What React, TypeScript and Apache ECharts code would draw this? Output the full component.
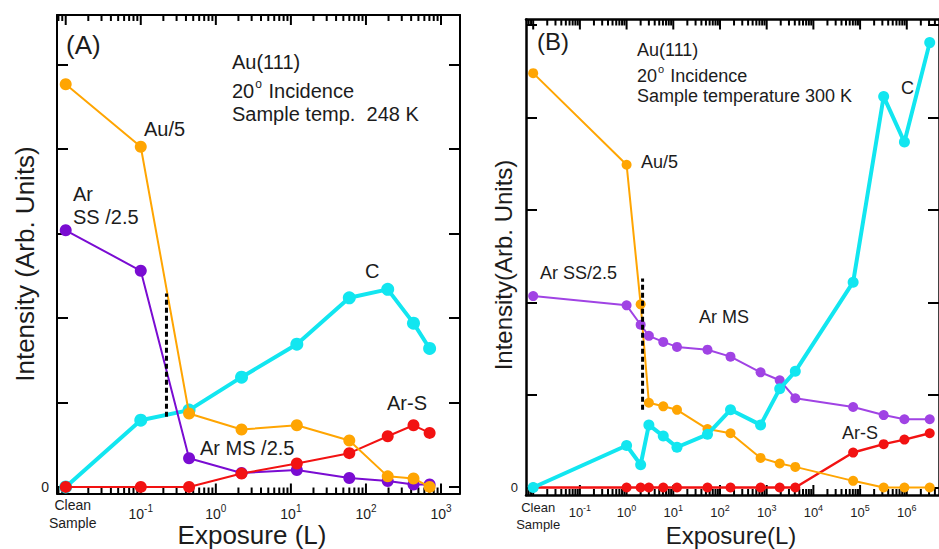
import React, { useEffect, useRef } from 'react';
import * as echarts from 'echarts';

// ---------- Panel A data (exposure in L; "Clean Sample" plotted at 1e-2) ----------
const exposureA = [0.01, 0.1, 0.44, 2.2, 12, 60, 195, 430, 705];
const auA = [4.77, 4.03, 0.87, 0.68, 0.73, 0.55, 0.125, 0.1, 0.0];
const arSSA = [3.04, 2.56, 0.34, 0.165, 0.2, 0.105, 0.07, 0.028, 0.03];
const carbonA = [0, 0.79, 0.91, 1.3, 1.69, 2.24, 2.34, 1.94, 1.64];
const arSA = [0, 0, 0, 0.158, 0.277, 0.4, 0.6, 0.73, 0.64];
const dashExposureA = [0.22, 0.22];
const dashValuesA = [0.83, 2.29];

// ---------- Panel B data ----------
const exposureB = [0.01, 1, 2, 3, 6.1, 12, 54, 168, 740, 1900, 4100, 71000, 320000, 890000, 3100000];
const auB = [4.48, 3.49, 1.98, 0.916, 0.878, 0.84, 0.632, 0.587, 0.32, 0.26, 0.223, 0.072, 0, 0, 0];
const arSSB = [2.07, 1.97, 1.76, 1.64, 1.574, 1.52, 1.49, 1.415, 1.245, 1.16, 0.965, 0.87, 0.783, 0.738, 0.738];
const carbonB = [0, 0.454, 0.246, 0.677, 0.556, 0.435, 0.575, 0.84, 0.677, 1.067, 1.256, 2.22, 4.227, 3.735, 4.81];
const arSB = [0, 0, 0, 0, 0, 0, 0, 0, 0, 0, 0, 0.378, 0.469, 0.518, 0.587];
const dashExposureB = [2.2, 2.2];
const dashValuesB = [0.84, 2.26];

// ---------- axes ----------
const decadesA = [-2, -1, 0, 1, 2, 3];
const decadesB = [-2, -1, 0, 1, 2, 3, 4, 5, 6];
const yTicks = [0, 1, 2, 3, 4, 5];
const yLabels = [0];
const cleanLabel = 'Clean\nSample';

const FONT = '"Liberation Sans", Arial, sans-serif';
const TEXT = '#1c1c1c';
const ORANGE = '#FFA502';
const CYAN = '#12E6F0';
const RED = '#F21212';

function minorTicks(min: number, max: number) {
  const out: number[] = [];
  for (let d = Math.floor(min); d <= Math.ceil(max); d++) {
    for (let k = 2; k <= 9; k++) {
      const v = d + Math.log10(k);
      if (v > min && v < max) out.push(v);
    }
  }
  return out;
}

type PanelCfg = {
  grid: number;
  xMin: number; xMax: number; yMin: number; yMax: number;
  decades: number[];
  labelSize: number;
  labelMargin: number;
  cleanMargin: number;
  cleanPad: number;
  yLabelSize: number;
  border: number;
};

function buildAxes(c: PanelCfg) {
  const majors = c.decades.filter((d) => d >= c.xMin && d <= c.xMax);
  const line = { show: true, onZero: false, lineStyle: { color: '#000', width: c.border } };
  const noLine = { show: false, onZero: false };
  const base = {
    type: 'value', gridIndex: c.grid, min: c.xMin, max: c.xMax,
    splitLine: { show: false }, axisTick: { show: false },
  };
  const tickStyle = { color: '#000', width: 2 };
  const xAxes = [
    {
      ...base, position: 'bottom', axisLine: line,
      axisLabel: {
        show: true, customValues: majors.filter((d) => d !== -2), margin: c.labelMargin,
        formatter: (v: number) => '{b|10}{s|' + String(v) + '}',
        rich: {
          b: { fontSize: c.labelSize, fontFamily: FONT, color: TEXT },
          s: { fontSize: c.labelSize - 4, fontFamily: FONT, color: TEXT, padding: [0, 0, 10, 0] },
        },
      },
    },
    {
      ...base, position: 'bottom', axisLine: noLine,
      axisLabel: {
        show: true, customValues: [-2], margin: c.cleanMargin,
        formatter: () => cleanLabel.split('\n').map((t) => '{c|' + t + '}').join('\n'),
        rich: { c: { fontSize: c.labelSize, fontFamily: FONT, color: TEXT, lineHeight: c.labelSize + 4, padding: [0, 0, 0, c.cleanPad] } },
      },
    },
    { ...base, position: 'top', axisLine: line, axisLabel: { show: false } },
  ];
  const yBase = {
    type: 'value', gridIndex: c.grid, min: c.yMin, max: c.yMax,
    splitLine: { show: false }, axisLine: line,
  };
  const yAxes = [
    {
      ...yBase, position: 'left',
      axisTick: { show: true, inside: true, length: 11, customValues: yTicks, lineStyle: tickStyle },
      axisLabel: { show: true, customValues: yLabels, margin: 8, fontSize: c.yLabelSize, fontFamily: FONT, color: TEXT },
    },
    {
      ...yBase, position: 'right',
      axisTick: { show: true, inside: true, length: 11, customValues: yTicks, lineStyle: tickStyle },
      axisLabel: { show: false },
    },
  ];
  return { xAxes, yAxes };
}

// log-axis tick marks (major + minor) on the top and bottom frame, placed through the axis scale
function tickSeries(xIdx: number, yIdx: number, c: PanelCfg) {
  const majors = c.decades.filter((d) => d >= c.xMin && d <= c.xMax);
  const minors = minorTicks(c.xMin, c.xMax);
  const data = [...majors.map((v) => [v, 10]), ...minors.map((v) => [v, 6])];
  return {
    type: 'custom', xAxisIndex: xIdx, yAxisIndex: yIdx, z: 1, silent: true, clip: false,
    data,
    renderItem: (_p: any, api: any) => {
      const x = api.value(0);
      const len = api.value(1);
      const b = api.coord([x, c.yMin]);
      const t = api.coord([x, c.yMax]);
      const st = { stroke: '#000', lineWidth: 2 };
      return {
        type: 'group',
        children: [
          { type: 'line', shape: { x1: b[0], y1: b[1], x2: b[0], y2: b[1] - len }, style: st },
          { type: 'line', shape: { x1: t[0], y1: t[1], x2: t[0], y2: t[1] + len }, style: st },
        ],
      };
    },
  };
}

function lineSeries(xIdx: number, yIdx: number, exps: number[], vals: number[], color: string, width: number, size: number, z: number) {
  return {
    type: 'line', xAxisIndex: xIdx, yAxisIndex: yIdx, z, silent: true,
    data: exps.map((e, i) => [Math.log10(e), vals[i]]),
    symbol: 'circle', symbolSize: size, showSymbol: true,
    lineStyle: { color, width }, itemStyle: { color, borderWidth: 0 },
  };
}

function dashSeries(xIdx: number, yIdx: number, exps: number[], vals: number[]) {
  return {
    type: 'line', xAxisIndex: xIdx, yAxisIndex: yIdx, z: 10, silent: true,
    data: exps.map((e, i) => [Math.log10(e), vals[i]]),
    symbol: 'none', lineStyle: { color: '#000', width: 3, type: [5, 3] },
  };
}

function txt(x: number, y: number, text: string, size: number, extra: any = {}) {
  return {
    type: 'text', x, y, silent: true, ...extra,
    style: {
      text, fontSize: size, fontFamily: FONT, fill: TEXT, align: 'left', verticalAlign: 'middle',
      rich: { o: { fontSize: Math.round(size * 0.62), fontFamily: FONT, fill: TEXT, padding: [0, 1, Math.round(size * 0.75), 1] } },
      ...(extra.style || {}),
    },
  };
}

export default function App() {
  const ref = useRef<HTMLDivElement>(null);
  useEffect(() => {
    if (!ref.current) return;
    const chart = echarts.init(ref.current, null, { renderer: 'svg' });

    const cfgA: PanelCfg = {
      grid: 0, xMin: -2.116, xMax: 3.253, yMin: -0.078, yMax: 5.59, decades: decadesA,
      labelSize: 14, labelMargin: 10, cleanMargin: 2, cleanPad: 14, yLabelSize: 14, border: 2,
    };
    const cfgB: PanelCfg = {
      grid: 1, xMin: -2.154, xMax: 6.69, yMin: -0.081, yMax: 5.06, decades: decadesB,
      labelSize: 13, labelMargin: 8, cleanMargin: 4, cleanPad: 10, yLabelSize: 13, border: 2.5,
    };
    const A = buildAxes(cfgA);
    const B = buildAxes(cfgB);

    const option: any = {
      animation: false,
      backgroundColor: '#ffffff',
      grid: [
        { left: 57, top: 15, width: 403, height: 478.5 },
        { left: 526, top: 19.5, width: 420, height: 475.5 },
      ],
      xAxis: [...A.xAxes, ...B.xAxes],
      yAxis: [...A.yAxes, ...B.yAxes],
      series: [
        tickSeries(0, 0, cfgA),
        lineSeries(0, 0, exposureA, carbonA, CYAN, 4, 13, 2),
        lineSeries(0, 0, exposureA, arSSA, '#7A0CD2', 2, 12, 3),
        lineSeries(0, 0, exposureA, arSA, RED, 2, 12, 4),
        lineSeries(0, 0, exposureA, auA, ORANGE, 2, 12, 5),
        dashSeries(0, 0, dashExposureA, dashValuesA),
        tickSeries(3, 2, cfgB),
        lineSeries(3, 2, exposureB, arSB, RED, 2.5, 10, 2),
        lineSeries(3, 2, exposureB, auB, ORANGE, 2, 10, 3),
        lineSeries(3, 2, exposureB, arSSB, '#A043E4', 2, 10, 4),
        lineSeries(3, 2, exposureB, carbonB, CYAN, 4, 11, 5),
        dashSeries(3, 2, dashExposureB, dashValuesB),
      ],
      graphic: [
        // Panel A
        txt(66, 45, '(A)', 26),
        txt(232, 62, 'Au(111)', 20),
        txt(232, 91, '20{o|o} Incidence', 20),
        txt(232, 114, 'Sample temp.  248 K', 20),
        txt(144, 129, 'Au/5', 20),
        txt(73, 194, 'Ar', 20),
        txt(73, 217, 'SS /2.5', 20),
        txt(365, 271, 'C', 20),
        txt(387, 403, 'Ar-S', 20),
        txt(200, 448, 'Ar MS /2.5', 20),
        txt(25, 264, 'Intensity (Arb. Units)', 26, { rotation: Math.PI / 2, style: { align: 'center' } }),
        txt(252, 535, 'Exposure (L)', 26, { style: { align: 'center' } }),
        // Panel B
        txt(537, 41, '(B)', 24),
        txt(637, 50, 'Au(111)', 18),
        txt(637, 76, '20{o|o} Incidence', 18),
        txt(637, 96, 'Sample temperature 300 K', 18),
        txt(641, 162, 'Au/5', 18),
        txt(540, 273, 'Ar SS/2.5', 18),
        txt(699, 317, 'Ar MS', 18),
        txt(901, 88, 'C', 18),
        txt(842, 433, 'Ar-S', 18),
        txt(503, 265, 'Intensity(Arb. Units)', 24, { rotation: Math.PI / 2, style: { align: 'center' } }),
        txt(731, 535, 'Exposure(L)', 24, { style: { align: 'center' } }),
      ],
    };
    chart.setOption(option);
    return () => chart.dispose();
  }, []);

  return (
    <div style={{ position: 'fixed', left: 0, top: 0, width: 939, height: 549, overflow: 'hidden', background: '#fff' }}>
      <div ref={ref} style={{ width: 939, height: 549 }} />
    </div>
  );
}
